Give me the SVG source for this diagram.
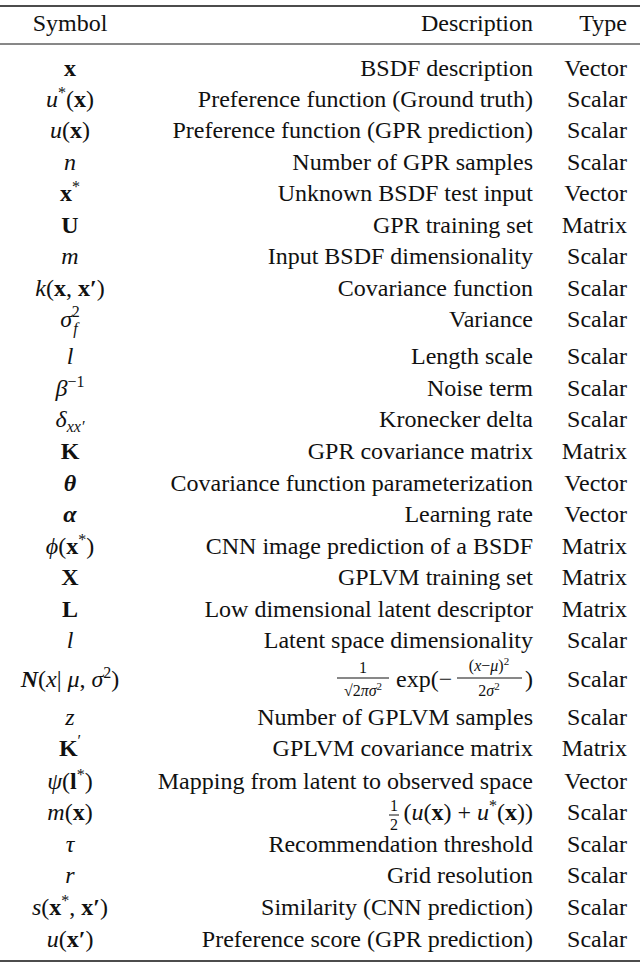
<svg xmlns="http://www.w3.org/2000/svg" width="640" height="964" viewBox="0 0 640 964">
<style>
text{font-family:"Liberation Serif",serif;font-size:24px;fill:#111}
.s{text-anchor:middle}.d{text-anchor:end}.t{text-anchor:end}
.i{font-style:italic}.b{font-weight:bold}
.sm{font-size:16px}
line{stroke:#111}
</style>
<rect width="640" height="964" fill="#fff"/>
<line x1="0" y1="6" x2="640" y2="6" stroke-width="1.5"/>
<line x1="0" y1="44" x2="640" y2="44" stroke-width="1"/>
<line x1="0" y1="961" x2="640" y2="961" stroke-width="1.5"/>
<g id="header"><text class="s" x="70" y="31">Symbol</text><text class="d" x="533" y="31">Description</text><text class="t" x="627" y="31">Type</text></g>
<g id="rows">
<text class="s b" x="70" y="76">x</text><text class="d" x="533" y="76">BSDF description</text><text class="t" x="627" y="76">Vector</text>
<text class="s" x="70" y="107"><tspan class="i">u</tspan><tspan class="sm" dy="-9">*</tspan><tspan dy="9">(</tspan><tspan class="b">x</tspan>)</text><text class="d" x="533" y="107">Preference function (Ground truth)</text><text class="t" x="627" y="107">Scalar</text>
<text class="s" x="70" y="138"><tspan class="i">u</tspan>(<tspan class="b">x</tspan>)</text><text class="d" x="533" y="138">Preference function (GPR prediction)</text><text class="t" x="627" y="138">Scalar</text>
<text class="s i" x="70" y="170">n</text><text class="d" x="533" y="170">Number of GPR samples</text><text class="t" x="627" y="170">Scalar</text>
<text class="s" x="70" y="201"><tspan class="b">x</tspan><tspan class="sm" dy="-9">*</tspan></text><text class="d" x="533" y="201">Unknown BSDF test input</text><text class="t" x="627" y="201">Vector</text>
<text class="s b" x="70" y="233">U</text><text class="d" x="533" y="233">GPR training set</text><text class="t" x="627" y="233">Matrix</text>
<text class="s i" x="70" y="264">m</text><text class="d" x="533" y="264">Input BSDF dimensionality</text><text class="t" x="627" y="264">Scalar</text>
<text class="s" x="70" y="296"><tspan class="i">k</tspan>(<tspan class="b">x</tspan>, <tspan class="b">x′</tspan>)</text><text class="d" x="533" y="296">Covariance function</text><text class="t" x="627" y="296">Scalar</text>
<text class="s" x="70" y="327"><tspan class="i">σ</tspan><tspan class="sm i" dx="1" dy="7">f</tspan><tspan class="sm" dx="-6" dy="-17">2</tspan></text><text class="d" x="533" y="327">Variance</text><text class="t" x="627" y="327">Scalar</text>
<text class="s i" x="70" y="364">l</text><text class="d" x="533" y="364">Length scale</text><text class="t" x="627" y="364">Scalar</text>
<text class="s" x="70" y="396"><tspan class="i">β</tspan><tspan class="sm" dy="-9">−1</tspan></text><text class="d" x="533" y="396">Noise term</text><text class="t" x="627" y="396">Scalar</text>
<text class="s" x="70" y="427"><tspan class="i">δ</tspan><tspan class="sm i" dy="5">xx′</tspan></text><text class="d" x="533" y="427">Kronecker delta</text><text class="t" x="627" y="427">Scalar</text>
<text class="s b" x="70" y="459">K</text><text class="d" x="533" y="459">GPR covariance matrix</text><text class="t" x="627" y="459">Matrix</text>
<text class="s b i" x="70" y="491">θ</text><text class="d" x="533" y="491">Covariance function parameterization</text><text class="t" x="627" y="491">Vector</text>
<text class="s b i" x="70" y="522">α</text><text class="d" x="533" y="522">Learning rate</text><text class="t" x="627" y="522">Vector</text>
<text class="s" x="70" y="554"><tspan class="i">ϕ</tspan>(<tspan class="b">x</tspan><tspan class="sm" dy="-9">*</tspan><tspan dy="9">)</tspan></text><text class="d" x="533" y="554">CNN image prediction of a BSDF</text><text class="t" x="627" y="554">Matrix</text>
<text class="s b" x="70" y="585">X</text><text class="d" x="533" y="585">GPLVM training set</text><text class="t" x="627" y="585">Matrix</text>
<text class="s b" x="70" y="617">L</text><text class="d" x="533" y="617">Low dimensional latent descriptor</text><text class="t" x="627" y="617">Matrix</text>
<text class="s i" x="70" y="648">l</text><text class="d" x="533" y="648">Latent space dimensionality</text><text class="t" x="627" y="648">Scalar</text>
<text class="s" x="70" y="687"><tspan class="i b">N</tspan>(<tspan class="i">x</tspan>| <tspan class="i">μ</tspan>, <tspan class="i">σ</tspan><tspan class="sm" dy="-9">2</tspan><tspan dy="9">)</tspan></text>
<g id="gauss">
<text class="sm" x="363" y="673" text-anchor="middle">1</text>
<line x1="337" y1="678" x2="389" y2="678" stroke-width="1"/>
<text class="sm" x="363" y="696" text-anchor="middle">√2<tspan class="i">πσ</tspan><tspan font-size="11" dy="-6">2</tspan></text>
<text x="396" y="687">exp(−</text>
<text class="sm" x="489" y="671" text-anchor="middle">(<tspan class="i">x</tspan>−<tspan class="i">μ</tspan>)<tspan font-size="11" dy="-6">2</tspan></text>
<line x1="457" y1="678" x2="522" y2="678" stroke-width="1"/>
<text class="sm" x="489" y="696" text-anchor="middle">2<tspan class="i">σ</tspan><tspan font-size="11" dy="-6">2</tspan></text>
<text x="525" y="687">)</text>
</g>
<text class="t" x="627" y="687">Scalar</text>
<text class="s i" x="70" y="725">z</text><text class="d" x="533" y="725">Number of GPLVM samples</text><text class="t" x="627" y="725">Scalar</text>
<text class="s" x="70" y="756"><tspan class="b">K</tspan><tspan class="sm" dy="-10">′</tspan></text><text class="d" x="533" y="756">GPLVM covariance matrix</text><text class="t" x="627" y="756">Matrix</text>
<text class="s" x="70" y="789"><tspan class="i">ψ</tspan>(<tspan class="b">l</tspan><tspan class="sm" dy="-9">*</tspan><tspan dy="9">)</tspan></text><text class="d" x="533" y="789">Mapping from latent to observed space</text><text class="t" x="627" y="789">Vector</text>
<text class="s" x="70" y="820"><tspan class="i">m</tspan>(<tspan class="b">x</tspan>)</text>
<text class="sm" x="394" y="811" text-anchor="middle">1</text><line x1="389" y1="815" x2="399" y2="815" stroke-width="1"/><text class="sm" x="394" y="830" text-anchor="middle">2</text>
<text class="d" x="533" y="820">(<tspan class="i">u</tspan>(<tspan class="b">x</tspan>) + <tspan class="i">u</tspan><tspan class="sm" dy="-9">*</tspan><tspan dy="9">(</tspan><tspan class="b">x</tspan>))</text><text class="t" x="627" y="820">Scalar</text>
<text class="s i" x="70" y="852">τ</text><text class="d" x="533" y="852">Recommendation threshold</text><text class="t" x="627" y="852">Scalar</text>
<text class="s i" x="70" y="883">r</text><text class="d" x="533" y="883">Grid resolution</text><text class="t" x="627" y="883">Scalar</text>
<text class="s" x="70" y="915"><tspan class="i">s</tspan>(<tspan class="b">x</tspan><tspan class="sm" dy="-9">*</tspan><tspan dy="9">, </tspan><tspan class="b">x′</tspan>)</text><text class="d" x="533" y="915">Similarity (CNN prediction)</text><text class="t" x="627" y="915">Scalar</text>
<text class="s" x="70" y="947"><tspan class="i">u</tspan>(<tspan class="b">x′</tspan>)</text><text class="d" x="533" y="947">Preference score (GPR prediction)</text><text class="t" x="627" y="947">Scalar</text>
</g>
</svg>
